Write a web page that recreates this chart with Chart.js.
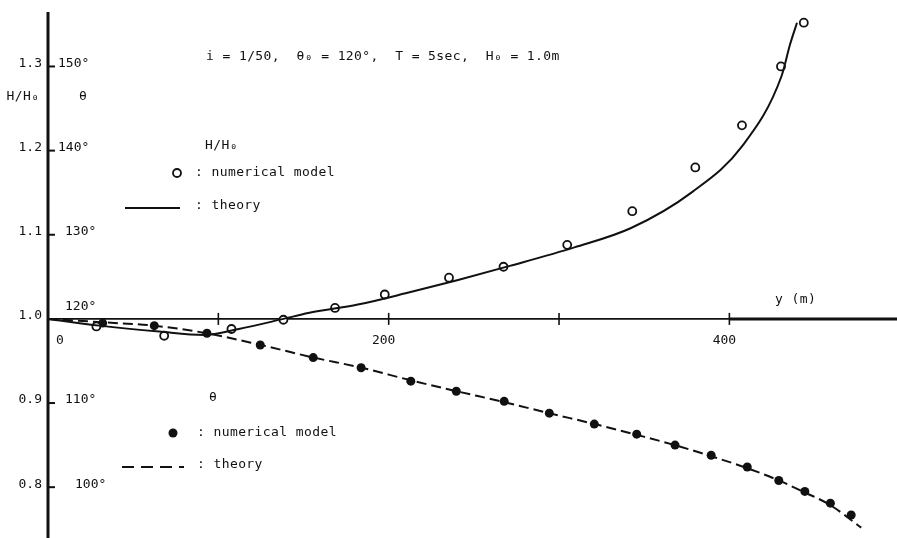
<!DOCTYPE html>
<html>
<head>
<meta charset="utf-8">
<script src="https://cdn.jsdelivr.net/npm/chart.js@4/dist/chart.umd.min.js"></script>
<style>
  html, body { margin: 0; padding: 0; background: #fff; }
  #wrap { position: relative; width: 897px; height: 538px; }
</style>
</head>
<body>
<div id="wrap"><canvas id="c"></canvas></div>
<script>
// Wave height ratio H/H0 along the crest line y (m)
const hNumX = [28.4, 68.2, 107.7, 138.2, 168.5, 197.7, 235.4, 267.4, 304.8, 343.0, 380.0, 407.4, 430.3, 443.7];
const hNumY = [0.991, 0.980, 0.988, 0.999, 1.013, 1.029, 1.049, 1.062, 1.088, 1.128, 1.180, 1.230, 1.300, 1.352];

const hTheoryX = [0, 30.3, 65.3, 91.5, 112, 138.2, 152.8, 181.9, 211.1, 240.2, 271.1, 309, 342.3, 378.3, 407.4, 430.7, 435.6, 439.7];
const hTheoryY = [1.000, 0.992, 0.985, 0.981, 0.988, 1.000, 1.007, 1.017, 1.031, 1.046, 1.063, 1.085, 1.108, 1.151, 1.205, 1.289, 1.326, 1.352];

// Wave direction θ (degrees)
const tNumX = [32.1, 62.4, 93.3, 124.6, 155.7, 183.8, 213.0, 239.7, 267.8, 294.3, 320.7, 345.6, 368.1, 389.3, 410.5, 429.0, 444.3, 459.3, 471.5];
const tNumY = [119.5, 119.2, 118.3, 116.9, 115.4, 114.2, 112.6, 111.4, 110.2, 108.8, 107.5, 106.3, 105.0, 103.8, 102.4, 100.8, 99.5, 98.1, 96.7];

const tTheoryX = [0, 32, 62, 93, 125, 156, 184, 213, 240, 268, 294, 321, 346, 368, 389, 410, 429, 444, 459, 477.4];
const tTheoryY = [120, 119.6, 119.2, 118.3, 116.9, 115.4, 114.2, 112.7, 111.4, 110.1, 108.8, 107.5, 106.2, 105.0, 103.7, 102.3, 100.8, 99.4, 97.9, 95.2];

// Axis ticks and labels
const hTicks = [0.8, 0.9, 1.0, 1.1, 1.2, 1.3];
const hTickLabels = ['0.8', '0.9', '1.0', '1.1', '1.2', '1.3'];
const tTickLabels = ['100°', '110°', '120°', '130°', '140°', '150°'];
const xTicks = [100, 200, 300, 400];
const xLabelValues = [0, 200, 400];
const xLabelTexts = ['0', '200', '400'];

const title = 'i = 1/50,  θ₀ = 120°,  T = 5sec,  H₀ = 1.0m';

const pts = (xs, ys) => xs.map((x, i) => ({ x: x, y: ys[i] }));

const FONT = '13px "DejaVu Sans Mono"';

function txt(ctx, s, x, y, align) {
  ctx.textAlign = align || 'left';
  ctx.fillText(s, x, y);
}

const axesPlugin = {
  id: 'paperAxes',
  beforeDatasetsDraw(chart) {
    const ctx = chart.ctx;
    const xs = chart.scales.x, ys = chart.scales.y;
    const x0 = xs.getPixelForValue(0);
    const y1 = ys.getPixelForValue(1.0);
    ctx.save();
    ctx.strokeStyle = '#111';
    ctx.lineCap = 'butt';
    // vertical axis
    ctx.lineWidth = 3;
    ctx.beginPath(); ctx.moveTo(x0, 12); ctx.lineTo(x0, chart.height); ctx.stroke();
    // horizontal axis at H/H0 = 1
    ctx.lineWidth = 1.8;
    ctx.beginPath(); ctx.moveTo(x0, y1); ctx.lineTo(xs.getPixelForValue(400), y1); ctx.stroke();
    ctx.lineWidth = 3;
    ctx.beginPath(); ctx.moveTo(xs.getPixelForValue(400), y1); ctx.lineTo(chart.width, y1); ctx.stroke();
    // x ticks
    ctx.lineWidth = 1.6;
    xTicks.forEach(v => {
      const px = xs.getPixelForValue(v);
      ctx.beginPath(); ctx.moveTo(px, y1 - 6); ctx.lineTo(px, y1 + 6); ctx.stroke();
    });
    // y ticks
    ctx.lineWidth = 2;
    hTicks.forEach(v => {
      if (v === 1.0) return;
      const py = ys.getPixelForValue(v);
      ctx.beginPath(); ctx.moveTo(x0, py); ctx.lineTo(x0 + 7, py); ctx.stroke();
    });
    ctx.restore();
  },
  afterDraw(chart) {
    const ctx = chart.ctx;
    const xs = chart.scales.x, ys = chart.scales.y;
    ctx.save();
    ctx.fillStyle = '#111';
    ctx.strokeStyle = '#111';
    ctx.font = FONT;
    ctx.textBaseline = 'middle';
    if ('letterSpacing' in ctx) ctx.letterSpacing = '0px';

    // left tick labels (H/H0) and direction labels (θ)
    const degX = [75, 65, 65, 65, 58, 58];
    hTicks.forEach((v, i) => {
      const py = ys.getPixelForValue(v);
      txt(ctx, hTickLabels[i], 42, py - 3, 'right');
      const dy = v === 1.0 ? -12 : -3;
      txt(ctx, tTickLabels[i], degX[i], py + dy, 'left');
    });

    // x labels
    xLabelValues.forEach((v, i) => {
      const px = xs.getPixelForValue(v);
      const off = v === 0 ? 12 : -5;
      txt(ctx, xLabelTexts[i], px + off, ys.getPixelForValue(1.0) + 22, 'center');
    });
    if ('letterSpacing' in ctx) ctx.letterSpacing = '0.4px';
    txt(ctx, 'y (m)', 775, 300, 'left');

    // axis titles
    txt(ctx, 'H/H₀', 23, 97, 'center');
    txt(ctx, 'θ', 83, 97, 'center');

    // title
    txt(ctx, title, 206, 57, 'left');

    // legend: H/H0
    txt(ctx, 'H/H₀', 205, 146, 'left');
    ctx.lineWidth = 1.8;
    ctx.beginPath(); ctx.arc(177, 173, 4, 0, Math.PI * 2); ctx.stroke();
    txt(ctx, ': numerical model', 195, 173, 'left');
    ctx.lineWidth = 2;
    ctx.beginPath(); ctx.moveTo(125, 208); ctx.lineTo(180, 208); ctx.stroke();
    txt(ctx, ': theory', 195, 206, 'left');

    // legend: θ
    txt(ctx, 'θ', 213, 398, 'center');
    ctx.beginPath(); ctx.arc(173, 433, 4.5, 0, Math.PI * 2); ctx.fill();
    txt(ctx, ': numerical model', 197, 433, 'left');
    ctx.setLineDash([12, 7]);
    ctx.beginPath(); ctx.moveTo(122, 467); ctx.lineTo(184, 467); ctx.stroke();
    ctx.setLineDash([]);
    txt(ctx, ': theory', 197, 465, 'left');
    ctx.restore();
  }
};

new Chart(document.getElementById('c'), {
  type: 'scatter',
  data: {
    datasets: [
      {
        label: 'H/H0 theory',
        data: pts(hTheoryX, hTheoryY),
        yAxisID: 'y',
        showLine: true,
        borderColor: '#111',
        borderWidth: 2,
        pointRadius: 0,
        cubicInterpolationMode: 'monotone',
        clip: false
      },
      {
        label: 'θ theory',
        data: pts(tTheoryX, tTheoryY),
        yAxisID: 'y2',
        showLine: true,
        borderColor: '#111',
        borderWidth: 2,
        borderDash: [10, 5],
        pointRadius: 0,
        cubicInterpolationMode: 'monotone',
        clip: false
      },
      {
        label: 'H/H0 numerical model',
        data: pts(hNumX, hNumY),
        yAxisID: 'y',
        pointStyle: 'circle',
        pointRadius: 4,
        pointBorderWidth: 1.8,
        pointBorderColor: '#111',
        pointBackgroundColor: '#fff',
        clip: false
      },
      {
        label: 'θ numerical model',
        data: pts(tNumX, tNumY),
        yAxisID: 'y2',
        pointStyle: 'circle',
        pointRadius: 4.5,
        pointBorderWidth: 0,
        pointBackgroundColor: '#111',
        clip: false
      }
    ]
  },
  options: {
    responsive: true,
    maintainAspectRatio: false,
    animation: false,
    layout: { padding: { left: 48, top: 0, right: 0, bottom: 0 } },
    plugins: { legend: { display: false }, tooltip: { enabled: false } },
    scales: {
      x: { type: 'linear', min: 0, max: 495, display: false },
      y: { type: 'linear', min: 0.7465, max: 1.3721, display: false },
      y2: { type: 'linear', min: 94.65, max: 157.21, display: false }
    }
  },
  plugins: [axesPlugin]
});
</script>
</body>
</html>
